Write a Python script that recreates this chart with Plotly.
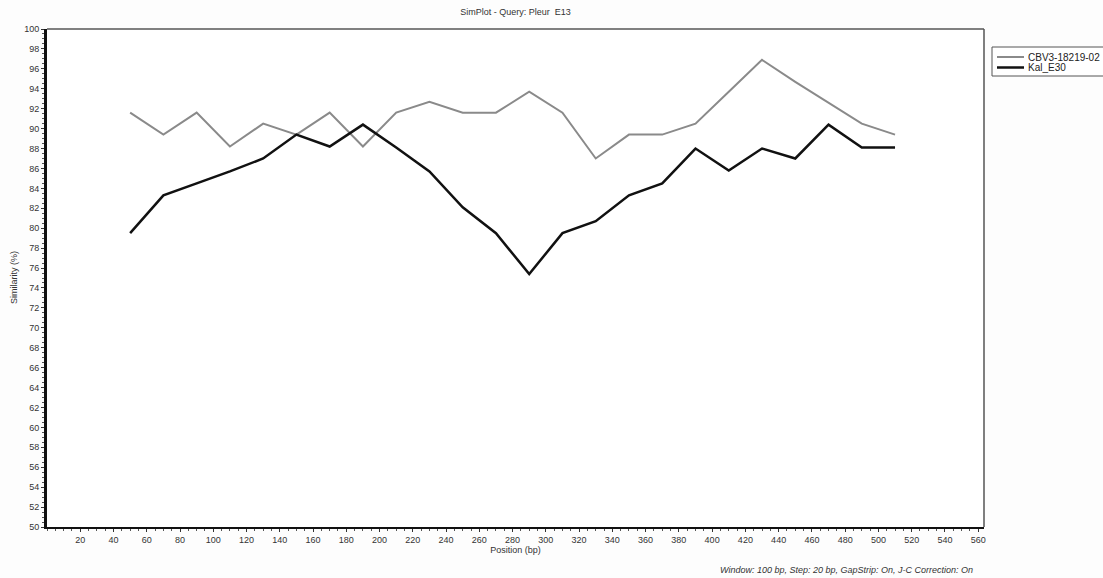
import plotly.graph_objects as go

positions = [50, 70, 90, 110, 130, 150, 170, 190, 210, 230, 250, 270,
             290, 310, 330, 350, 370, 390, 410, 430, 450, 470, 490, 510]
cbv3 = [91.6, 89.4, 91.6, 88.2, 90.5, 89.4, 91.6, 88.2, 91.6, 92.7, 91.6, 91.6,
        93.7, 91.6, 87.0, 89.4, 89.4, 90.5, 93.7, 96.9, 94.7, 92.6, 90.5, 89.4]
kal_e30 = [79.5, 83.3, 84.5, 85.7, 87.0, 89.4, 88.2, 90.4, 88.1, 85.7, 82.1, 79.5,
           75.4, 79.5, 80.7, 83.3, 84.5, 88.0, 85.8, 88.0, 87.0, 90.4, 88.1, 88.1]
series_names = ["CBV3-18219-02", "Kal_E30"]
series_colors = ["#8a8a8a", "#111111"]
series_widths = [2, 2.5]
x_ticks = list(range(20, 561, 20))
y_ticks = list(range(50, 101, 2))

FONT = "Liberation Sans, Arial, sans-serif"
L, R, T, B = 47, 119, 29, 51
W, H = 1103, 578
PW, PH = W - L - R, H - T - B


def px_x(px):
    return (px - L) / PW


def px_y(py):
    return (H - B - py) / PH


fig = go.Figure()
for name, ys, col, wd in zip(series_names, [cbv3, kal_e30], series_colors, series_widths):
    fig.add_trace(go.Scatter(x=positions, y=ys, mode="lines", name=name,
                             line=dict(color=col, width=wd), showlegend=False))

fig.update_layout(
    width=W, height=H,
    margin=dict(l=L, r=R, t=T, b=B, autoexpand=False),
    paper_bgcolor="#fdfdfd", plot_bgcolor="#ffffff",
    font=dict(family=FONT, size=9, color="#333333"),
    title=dict(text="SimPlot - Query: Pleur  E13", x=0.5, xref="paper", xanchor="center",
               y=1 - 12 / H, yanchor="middle",
               font=dict(family=FONT, size=9, color="#333333")),
    showlegend=False,
    xaxis=dict(range=[0, 563.5], tickvals=x_ticks, ticks="outside", ticklen=3,
               tickcolor="#333333", showgrid=False, zeroline=False, automargin=False,
               showline=True, linecolor="#111111", linewidth=2,
               minor=dict(dtick=5, ticks="outside", ticklen=2, tickcolor="#555555"),
               tickfont=dict(family=FONT, size=9, color="#333333"),
               title=dict(text="Position (bp)", standoff=2,
                          font=dict(family=FONT, size=9, color="#333333"))),
    yaxis=dict(range=[50, 100], tickvals=y_ticks, ticks="outside", ticklen=3,
               tickcolor="#333333", showgrid=False, zeroline=False, automargin=False,
               showline=True, linecolor="#111111", linewidth=3,
               minor=dict(dtick=0.5, ticks="outside", ticklen=2, tickcolor="#555555"),
               tickfont=dict(family=FONT, size=9, color="#333333")),
)

# top and right frame lines (lighter than the main axes)
fig.add_shape(type="line", xref="paper", yref="paper", x0=0, x1=1, y0=1, y1=1,
              line=dict(color="#808080", width=2))
fig.add_shape(type="line", xref="paper", yref="paper", x0=1, x1=1, y0=0, y1=1,
              line=dict(color="#555555", width=1.5))

# compact legend box
fig.add_shape(type="rect", xref="paper", yref="paper",
              x0=px_x(992), x1=px_x(1112), y0=px_y(76), y1=px_y(47),
              line=dict(color="#555555", width=1), fillcolor="#ffffff")
for i, (name, col, wd) in enumerate(zip(series_names, series_colors, series_widths)):
    row_y = 57 + i * 10.5
    fig.add_shape(type="line", xref="paper", yref="paper",
                  x0=px_x(997), x1=px_x(1024), y0=px_y(row_y), y1=px_y(row_y),
                  line=dict(color=col, width=wd))
    fig.add_annotation(text=name, xref="paper", yref="paper", x=px_x(1026), y=px_y(row_y),
                       xanchor="left", yanchor="middle", showarrow=False,
                       font=dict(family=FONT, size=10, color="#222222"))

fig.add_annotation(text="Similarity (%)", xref="paper", yref="paper",
                   x=px_x(14), y=0.5, textangle=-90, showarrow=False,
                   xanchor="center", yanchor="middle",
                   font=dict(family=FONT, size=9, color="#333333"))
fig.add_annotation(text="<i>Window: 100 bp, Step: 20 bp, GapStrip: On, J-C Correction: On</i>",
                   xref="paper", yref="paper", x=px_x(975), y=px_y(570),
                   xanchor="right", yanchor="middle", showarrow=False,
                   font=dict(family=FONT, size=9, color="#333333"))

fig.write_html("out.html", config={"displayModeBar": False},
               post_script="document.body.style.margin='0';document.body.style.overflow='hidden';")
